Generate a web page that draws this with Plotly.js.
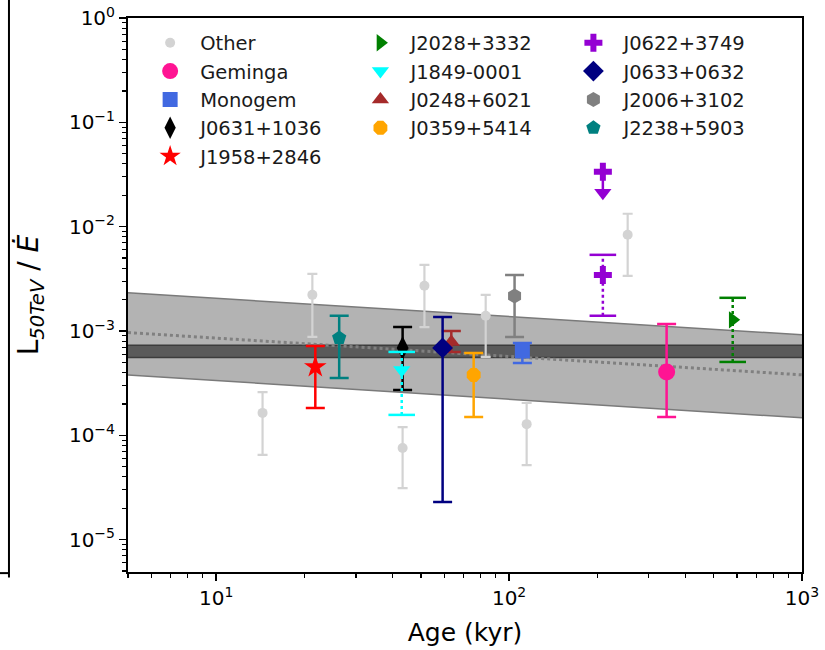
<!DOCTYPE html>
<html>
<head>
<meta charset="utf-8">
<script src="https://cdn.plot.ly/plotly-3.0.1.min.js"></script>
<style>
  html, body { margin: 0; padding: 0; background: #ffffff; }
  #chart { width: 825px; height: 650px; }
</style>
</head>
<body>
<div id="chart"></div>
<script>
// ---- data -------------------------------------------------------------
// Unlabelled pulsars ("Other")
const otherAge = [14.4, 21.3, 43.3, 51.4, 83.2, 114.8, 254];
const otherVal = [1.64e-4, 2.22e-3, 7.55e-5, 2.71e-3, 1.40e-3, 1.28e-4, 8.36e-3];
const otherHi  = [2.6e-4, 3.53e-3, 1.2e-4, 4.3e-3, 2.22e-3, 2.04e-4, 1.33e-2];
const otherLo  = [6.5e-5, 8.78e-4, 3.12e-5, 1.09e-3, 5.64e-4, 5.19e-5, 3.38e-3];

// Named sources
const srcNames = ['Geminga', 'Monogem', 'J0631+1036', 'J1958+2846',
                  'J2028+3332', 'J1849-0001', 'J0248+6021', 'J0359+5414',
                  'J0622+3749', 'J0633+0632', 'J2006+3102', 'J2238+5903'];
const srcAge = [345, 111, 43.3, 21.8, 580, 43.0, 63.5, 75.7, 209, 59.3, 104.4, 26.3];
const srcVal = [4.05e-4, 6.44e-4, 6.88e-4, 4.52e-4, 1.28e-3, 4.23e-4,
                7.86e-4, 3.79e-4, 3.45e-3, 6.88e-4, 2.17e-3, 8.59e-4];
const srcHi  = [1.17e-3, 7.69e-4, 1.09e-3, 7.2e-4, 2.08e-3, 6.3e-4,
                1.0e-3, 6.16e-4, 5.37e-3, 1.36e-3, 3.45e-3, 1.4e-3];
const srcLo  = [1.5e-4, 4.94e-4, 2.72e-4, 1.83e-4, 5.05e-4, 1.57e-4,
                6.3e-4, 1.5e-4, 1.4e-3, 2.29e-5, 8.78e-4, 3.55e-4];
const srcDotted = [false, false, false, false, true, true,
                   false, false, true, false, false, false];

// Upper limit for J0622+3749
const limAge = [209];
const limVal = [3.36e-2];

// Efficiency bands and trend
const bandAge   = [5, 1000];
const bandUpper = [2.32e-3, 9.2e-4];
const bandLower = [3.79e-4, 1.47e-4];
const coreUpper = [7.3e-4, 7.3e-4];
const coreLower = [5.56e-4, 5.56e-4];
const trendVal  = [9.66e-4, 3.8e-4];

// Axis tick labels
const xTickVals = [10, 100, 1000];
const xTickText = ['10<sup>1</sup>', '10<sup>2</sup>', '10<sup>3</sup>'];
const yTickVals = [1e-5, 1e-4, 1e-3, 1e-2, 1e-1, 1];
const yTickText = ['10<sup>−5</sup>', '10<sup>−4</sup>', '10<sup>−3</sup>',
                   '10<sup>−2</sup>', '10<sup>−1</sup>', '10<sup>0</sup>'];

// ---- styles -----------------------------------------------------------
const srcStyle = {
  'Geminga':    {color: '#ff1493', symbol: 'circle',        size: 17, legend: 'legend'},
  'Monogem':    {color: '#4169e1', symbol: 'square',        size: 15, legend: 'legend'},
  'J0631+1036': {color: '#000000', symbol: 'diamond-tall',  size: 17, legend: 'legend'},
  'J1958+2846': {color: '#ff0000', symbol: 'star',          size: 17, legend: 'legend'},
  'J2028+3332': {color: '#008000', symbol: 'triangle-right',size: 15, legend: 'legend2'},
  'J1849-0001': {color: '#00ffff', symbol: 'triangle-down', size: 15, legend: 'legend2'},
  'J0248+6021': {color: '#a52a2a', symbol: 'triangle-up',   size: 15, legend: 'legend2'},
  'J0359+5414': {color: '#ffa500', symbol: 'octagon',       size: 15, legend: 'legend2'},
  'J0622+3749': {color: '#9400d3', symbol: 'cross',         size: 15, legend: 'legend3'},
  'J0633+0632': {color: '#000080', symbol: 'diamond',       size: 16, legend: 'legend3'},
  'J2006+3102': {color: '#808080', symbol: 'hexagon',       size: 15, legend: 'legend3'},
  'J2238+5903': {color: '#008080', symbol: 'pentagon',      size: 15, legend: 'legend3'}
};

const traces = [];

// wide efficiency band
traces.push({x: bandAge, y: bandLower, mode: 'lines', type: 'scatter',
  line: {color: '#7a7a7a', width: 1.5}, showlegend: false, hoverinfo: 'skip'});
traces.push({x: bandAge, y: bandUpper, mode: 'lines', type: 'scatter', fill: 'tonexty',
  fillcolor: '#b3b3b3', line: {color: '#7a7a7a', width: 1.5}, showlegend: false, hoverinfo: 'skip'});
// narrow core band
traces.push({x: bandAge, y: coreLower, mode: 'lines', type: 'scatter',
  line: {color: '#3c3c3c', width: 1.5}, showlegend: false, hoverinfo: 'skip'});
traces.push({x: bandAge, y: coreUpper, mode: 'lines', type: 'scatter', fill: 'tonexty',
  fillcolor: '#5a5a5a', line: {color: '#3c3c3c', width: 1.5}, showlegend: false, hoverinfo: 'skip'});
// trend line
traces.push({x: bandAge, y: trendVal, mode: 'lines', type: 'scatter',
  line: {color: '#808080', width: 3, dash: 'dot'}, showlegend: false, hoverinfo: 'skip'});

// other pulsars
traces.push({
  x: otherAge, y: otherVal, mode: 'markers', type: 'scatter', name: 'Other',
  legend: 'legend',
  marker: {color: '#d3d3d3', size: 10, symbol: 'circle'},
  error_y: {type: 'data', symmetric: false,
    array: otherVal.map((v, i) => otherHi[i] - v),
    arrayminus: otherVal.map((v, i) => v - otherLo[i]),
    color: '#d3d3d3', thickness: 2.2, width: 5}
});

// named sources
srcNames.forEach((name, i) => {
  const st = srcStyle[name];
  const v = srcVal[i];
  if (srcDotted[i]) {
    // dotted bar with solid caps
    traces.push({x: [srcAge[i], srcAge[i]], y: [srcLo[i], srcHi[i]], mode: 'lines',
      type: 'scatter', line: {color: st.color, width: 2.5, dash: 'dot'},
      showlegend: false, hoverinfo: 'skip'});
    traces.push({x: [srcAge[i], srcAge[i]], y: [srcLo[i], srcHi[i]], mode: 'markers',
      type: 'scatter', marker: {symbol: 'line-ew-open', size: 19, color: st.color,
        line: {color: st.color, width: 2.5}},
      showlegend: false, hoverinfo: 'skip'});
    traces.push({x: [srcAge[i]], y: [v], mode: 'markers', type: 'scatter', name: name,
      legend: st.legend,
      marker: {color: st.color, size: st.size, symbol: st.symbol}});
  } else {
    traces.push({x: [srcAge[i]], y: [v], mode: 'markers', type: 'scatter', name: name,
      legend: st.legend,
      marker: {color: st.color, size: st.size, symbol: st.symbol},
      error_y: {type: 'data', symmetric: false,
        array: [srcHi[i] - v], arrayminus: [v - srcLo[i]],
        color: st.color, thickness: 2.5, width: 9.5}});
  }
});

// upper limit arrow for J0622+3749
const limColor = srcStyle['J0622+3749'].color;
traces.push({x: [limAge[0], limAge[0]], y: [limVal[0], limVal[0] * 0.66], mode: 'lines',
  type: 'scatter', line: {color: limColor, width: 2.5}, showlegend: false, hoverinfo: 'skip'});
traces.push({x: [limAge[0]], y: [limVal[0] * 0.63], mode: 'markers', type: 'scatter',
  marker: {color: limColor, size: 15, symbol: 'triangle-down'},
  showlegend: false, hoverinfo: 'skip'});
traces.push({x: limAge, y: limVal, mode: 'markers', type: 'scatter',
  marker: {color: limColor, size: 15, symbol: 'cross'},
  showlegend: false, hoverinfo: 'skip'});

// minor tick positions (2..9 in each decade)
function minorTicks(lo, hi) {
  const out = [];
  for (let e = lo; e <= hi; e++) {
    for (let m = 2; m <= 9; m++) out.push(m * Math.pow(10, e));
  }
  return out;
}

const font = {family: 'DejaVu Sans, sans-serif', color: '#000000'};
const legendBase = {
  font: {family: 'DejaVu Sans, sans-serif', size: 19.5, color: '#1a1a1a'},
  bgcolor: 'rgba(0,0,0,0)', borderwidth: 0, traceorder: 'normal',
  xanchor: 'left', yanchor: 'top', y: 0.99, itemwidth: 50,
  tracegroupgap: 0
};

const layout = {
  width: 825, height: 650,
  margin: {l: 128, r: 23, t: 18, b: 78},
  paper_bgcolor: '#ffffff', plot_bgcolor: '#ffffff',
  font: font,
  showlegend: true,
  legend:  Object.assign({}, legendBase, {x: 0.018}),
  legend2: Object.assign({}, legendBase, {x: 0.330}),
  legend3: Object.assign({}, legendBase, {x: 0.646}),
  xaxis: {
    type: 'log', range: [Math.log10(5), 3],
    showline: true, linecolor: '#000000', linewidth: 2, mirror: true,
    showgrid: false, zeroline: false,
    ticks: 'outside', ticklen: 7, tickwidth: 1.5, tickcolor: '#000000',
    tickmode: 'array', tickvals: xTickVals, ticktext: xTickText,
    tickfont: {family: 'DejaVu Sans, sans-serif', size: 20, color: '#000000'},
    minor: {tickmode: 'array', tickvals: minorTicks(0, 2), ticks: 'outside',
            ticklen: 4, tickwidth: 1.2, tickcolor: '#000000', showgrid: false},
    title: {text: 'Age (kyr)', font: {family: 'DejaVu Sans, sans-serif', size: 25, color: '#000000'},
            standoff: 14}
  },
  yaxis: {
    type: 'log', range: [-5.31, 0],
    showline: true, linecolor: '#000000', linewidth: 2, mirror: true,
    showgrid: false, zeroline: false,
    ticks: 'outside', ticklen: 7, tickwidth: 1.5, tickcolor: '#000000',
    tickmode: 'array', tickvals: yTickVals, ticktext: yTickText,
    tickfont: {family: 'DejaVu Sans, sans-serif', size: 20, color: '#000000'},
    minor: {tickmode: 'array', tickvals: minorTicks(-6, -1), ticks: 'outside',
            ticklen: 4, tickwidth: 1.2, tickcolor: '#000000', showgrid: false},
    title: {text: 'L<sub><i>50TeV</i></sub> / <i>Ė</i>',
            font: {family: 'DejaVu Sans, sans-serif', size: 28, color: '#000000'},
            standoff: 22}
  },
  shapes: [
    // edge of the neighbouring panel
    {type: 'line', xref: 'paper', yref: 'paper', x0: -0.1766, x1: -0.1766, y0: -0.01, y1: 1.04,
     line: {color: '#000000', width: 2}},
    {type: 'line', xref: 'paper', yref: 'paper', x0: -0.2, x1: -0.1766, y0: -0.002, y1: -0.002,
     line: {color: '#000000', width: 2}}
  ]
};

Plotly.newPlot('chart', traces, layout, {displayModeBar: false, staticPlot: true});
</script>
</body>
</html>
